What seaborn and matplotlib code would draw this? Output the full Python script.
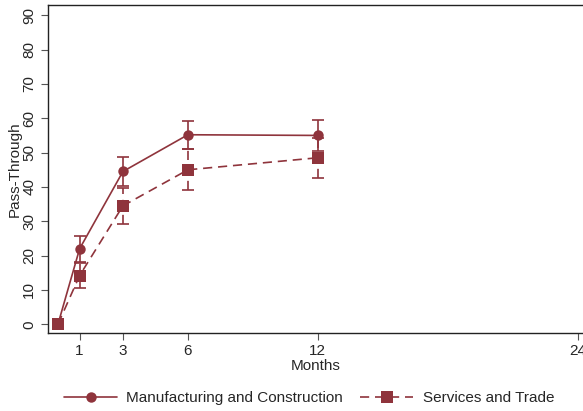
import numpy as np
import pandas as pd
import matplotlib
matplotlib.use("Agg")
import matplotlib.pyplot as plt
import seaborn as sns

# data
months = [0, 1, 3, 6, 12]
manuf = [0.0, 22.0, 44.5, 55.2, 55.0]
manuf_lo = [0.0, 18.2, 40.2, 51.0, 50.6]
manuf_hi = [0.0, 25.8, 48.8, 59.3, 59.4]
serv = [0.0, 14.2, 34.5, 45.0, 48.5]
serv_lo = [0.0, 10.5, 29.2, 39.0, 42.7]
serv_hi = [0.0, 17.9, 39.8, 51.0, 54.3]
x_ticks = [1, 3, 6, 12, 24]
y_ticks = list(range(0, 91, 10))
labels = ["Manufacturing and Construction", "Services and Trade"]

col = "#8f343c"
fs = 11

sns.set_style("ticks")
plt.rcParams['font.family'] = ['Liberation Sans', 'DejaVu Sans']

df = pd.DataFrame({
    "Months": months * 2,
    "PT": manuf + serv,
    "Sector": [labels[0]] * len(months) + [labels[1]] * len(months),
})

fig = plt.figure(figsize=(5.83, 4.11), dpi=100)
ax = fig.add_axes([0.0823, 0.19, 0.9177, 0.798])

sns.lineplot(data=df, x="Months", y="PT", style="Sector", markers={labels[0]: "o", labels[1]: "s"},
             dashes={labels[0]: "", labels[1]: (5.5, 3.5)}, color=col, lw=1.2, ax=ax,
             markersize=7.5, markeredgewidth=0, legend=False)
# squares a bit bigger
ax.lines[1].set_markersize(8.5)

for y, lo, hi, ls in [(manuf, manuf_lo, manuf_hi, "-"), (serv, serv_lo, serv_hi, (0, (5.5, 3.5)))]:
    y = np.array(y); lo = np.array(lo); hi = np.array(hi)
    m = np.array(months) > 0
    eb = ax.errorbar(np.array(months)[m], y[m], yerr=[y[m] - lo[m], hi[m] - y[m]], fmt="none",
                     ecolor=col, elinewidth=1.2, capsize=4.5, capthick=1.2)
    eb[2][0].set_linestyle(ls)

ax.set_xlim(-0.46, 24.24)
ax.set_ylim(-2.5, 93)
ax.set_xticks(x_ticks)
ax.set_yticks(y_ticks)
ax.tick_params(axis="y", labelrotation=90, labelsize=fs, length=5, color="#555555")
ax.tick_params(axis="x", labelsize=fs, length=5, color="#555555", pad=3)
for t in ax.get_yticklabels():
    t.set_va("center")
ax.set_xlabel("Months", fontsize=fs, labelpad=1)
ax.set_ylabel("Pass-Through", fontsize=fs, labelpad=0)
ax.spines["right"].set_visible(False)
for s in ["left", "top", "bottom"]:
    ax.spines[s].set_linewidth(1.0)
    ax.spines[s].set_color("#222222")

h1, = ax.plot([], [], color=col, lw=1.2, marker="o", markersize=7.5, markeredgewidth=0)
h2, = ax.plot([], [], color=col, lw=1.2, ls=(0, (5.5, 3.5)), marker="s", markersize=8.5, markeredgewidth=0)
fig.legend([h1, h2], labels, loc="center", bbox_to_anchor=(0.53, 0.032), ncol=2, frameon=False,
           fontsize=fs, handlelength=3.5, numpoints=1, columnspacing=1.1, handletextpad=0.6)

fig.savefig("out.png", dpi=100)
